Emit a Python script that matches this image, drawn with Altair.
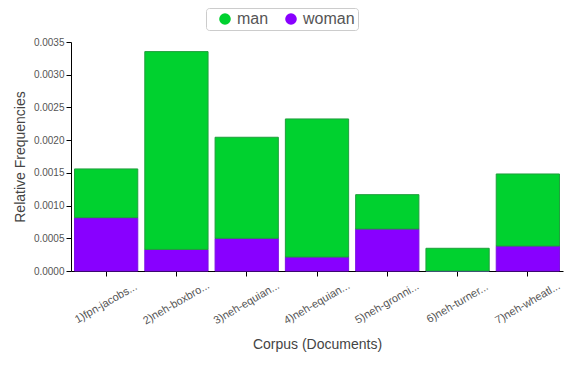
import altair as alt
import pandas as pd

docs = ["1)fpn-jacobs...", "2)neh-boxbro...", "3)neh-equian...", "4)neh-equian...",
        "5)neh-gronni...", "6)neh-turner...", "7)neh-wheatl..."]
man = [0.000745, 0.003023, 0.001544, 0.002110, 0.000525, 0.000347, 0.001101]
woman = [0.000815, 0.000330, 0.000500, 0.000214, 0.000642, 0.0, 0.000382]

rows = []
for d, m, w in zip(docs, man, woman):
    rows.append({"doc": d, "gender": "woman", "value": w, "ord": 0})
    rows.append({"doc": d, "gender": "man", "value": m, "ord": 1})
df = pd.DataFrame(rows)

font = "Liberation Sans"
gray = "#555555"

chart = alt.Chart(df).mark_bar(strokeWidth=1).encode(
    x=alt.X("doc:N", sort=docs, title="Corpus (Documents)",
            scale=alt.Scale(paddingInner=0.1, paddingOuter=0.05),
            axis=alt.Axis(labelAngle=-30, labelAlign="center", labelBaseline="middle",
                          labelPadding=27, labelFontSize=11, labelColor=gray,
                          titleFontSize=14, titleFontWeight="normal", titleColor="#444",
                          titlePadding=12, domainColor="#000", tickColor="#000",
                          labelFont=font, titleFont=font)),
    y=alt.Y("value:Q", stack="zero", title="Relative Frequencies",
            scale=alt.Scale(domain=[0, 0.0035], nice=False),
            axis=alt.Axis(values=[0, 0.0005, 0.001, 0.0015, 0.002, 0.0025, 0.003, 0.0035],
                          format=".4f", grid=False, labelFontSize=10, labelColor=gray,
                          titleFontSize=14, titleFontWeight="normal", titleColor="#444",
                          domainColor="#000", tickColor="#000",
                          labelFont=font, titleFont=font, titlePadding=6)),
    color=alt.Color("gender:N", sort=["man", "woman"],
                    scale=alt.Scale(domain=["man", "woman"], range=["#00d12f", "#8800ff"]),
                    legend=alt.Legend(title=None, orient="none", direction="horizontal",
                                      legendX=135, legendY=-34, symbolType="circle",
                                      symbolSize=135, symbolStrokeWidth=0,
                                      labelFontSize=16, labelColor=gray, labelFont=font,
                                      symbolOffset=8,
                                      strokeColor="#cccccc", cornerRadius=3, padding=3,
                                      columnPadding=6, symbolOpacity=1)),
    stroke=alt.Stroke("gender:N",
                      scale=alt.Scale(domain=["man", "woman"], range=["#1f9e3c", "#7a10e0"]),
                      legend=None),
    order=alt.Order("ord:Q"),
).properties(
    width=492, height=229,
    autosize=alt.AutoSizeParams(type="none"),
    padding={"left": 63, "top": 34, "right": 1, "bottom": 88},
).configure_view(stroke=None)

chart.save("out.html", embed_options={"renderer": "svg", "actions": False})
